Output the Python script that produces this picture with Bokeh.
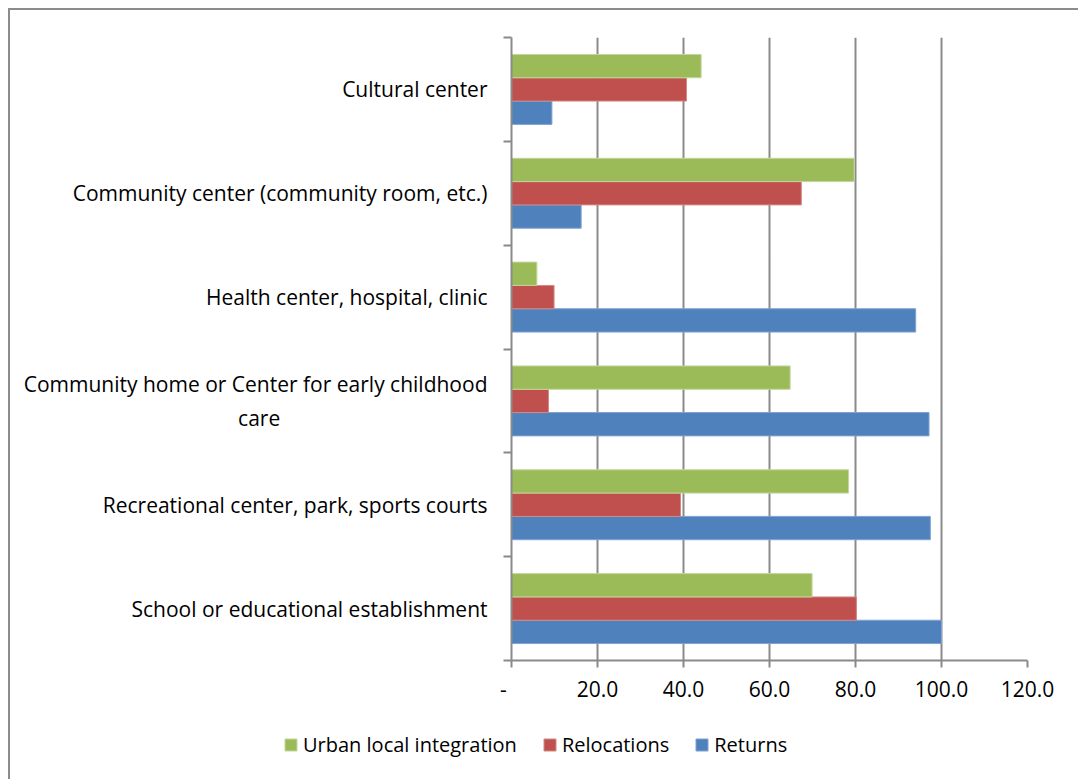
from bokeh.plotting import figure
from bokeh.layouts import column
from bokeh.models import (ColumnDataSource, FixedTicker, Legend, LegendItem,
                          InlineStyleSheet, NumeralTickFormatter)
from bokeh.transform import dodge
from bokeh.embed import file_html
from bokeh.resources import INLINE

NB = "\u00a0"
categories = [
    "School or educational establishment",
    "Recreational center, park, sports courts",
    "Community home or Center for early childhood\ncare" + NB * 38,
    "Health center, hospital, clinic",
    "Community center (community room, etc.)",
    "Cultural center",
]
returns = [100.0, 97.4, 97.1, 94.0, 16.2, 9.4]
relocations = [80.2, 39.3, 8.6, 9.9, 67.4, 40.7]
urban = [69.9, 78.4, 64.8, 5.9, 79.7, 44.1]
x_ticks = [0, 20, 40, 60, 80, 100, 120]
series_names = ["Urban local integration", "Relocations", "Returns"]
series_colors = ["#9BBB59", "#C0504D", "#4F81BD"]
series_edges = ["#C3D79C", "#D48886", "#7FA2D2"]

FONT = "Open Sans"
FS = "21px"
GRID = "#8a8a8a"

centers = [i + 0.5 for i in range(len(categories))]
src = ColumnDataSource(dict(y=centers, returns=returns, relocations=relocations, urban=urban))

p = figure(width=1078, height=710, x_range=(0, 120), y_range=(0, len(categories)),
           output_backend="svg", toolbar_location=None,
           min_border_left=511, min_border_right=51, min_border_top=37, min_border_bottom=50)
p.outline_line_color = None
p.background_fill_color = "white"
p.border_fill_color = "white"

bh = 0.2245
p.hbar(y=dodge("y", -bh, range=p.y_range), right="returns", left=0, height=bh, source=src,
       fill_color=series_colors[2], line_color=series_edges[2], line_width=1)
p.hbar(y=dodge("y", 0, range=p.y_range), right="relocations", left=0, height=bh, source=src,
       fill_color=series_colors[1], line_color=series_edges[1], line_width=1)
p.hbar(y=dodge("y", bh, range=p.y_range), right="urban", left=0, height=bh, source=src,
       fill_color=series_colors[0], line_color=series_edges[0], line_width=1)

# x axis
p.xaxis.ticker = FixedTicker(ticks=x_ticks)
p.xaxis.formatter = NumeralTickFormatter(format="0.0")
p.xaxis.major_label_overrides = {0: "-" + NB * 3}
p.xaxis.axis_line_color = GRID
p.xaxis.axis_line_width = 2
p.xaxis.major_tick_line_color = GRID
p.xaxis.major_tick_line_width = 2
p.xaxis.major_tick_out = 7
p.xaxis.major_tick_in = 0
p.xaxis.minor_tick_line_color = None
p.xaxis.major_label_standoff = 7
p.xaxis.major_label_text_font = FONT
p.xaxis.major_label_text_font_size = FS
p.xaxis.major_label_text_color = "black"

# y axis: labels at centers, ticks at category boundaries
p.yaxis.ticker = FixedTicker(ticks=centers, minor_ticks=list(range(len(categories) + 1)))
p.yaxis.major_label_overrides = {c: lab for c, lab in zip(centers, categories)}
p.yaxis.axis_line_color = GRID
p.yaxis.axis_line_width = 2
p.yaxis.major_tick_line_color = None
p.yaxis.major_tick_out = 0
p.yaxis.major_tick_in = 0
p.yaxis.minor_tick_line_color = GRID
p.yaxis.minor_tick_line_width = 2
p.yaxis.minor_tick_out = 8
p.yaxis.minor_tick_in = 0
p.yaxis.major_label_standoff = 16
p.yaxis.major_label_text_font = FONT
p.yaxis.major_label_text_font_size = FS
p.yaxis.major_label_text_color = "black"

p.xgrid.ticker = FixedTicker(ticks=x_ticks[1:])
p.xgrid.grid_line_color = GRID
p.xgrid.grid_line_width = 2
p.ygrid.grid_line_color = None

# legend strip below the chart (legend swatches come from off-range proxy glyphs)
lg = figure(width=1078, height=69, x_range=(0, 1), y_range=(0, 1),
            output_backend="svg", toolbar_location=None,
            x_axis_location=None, y_axis_location=None,
            min_border_left=0, min_border_right=0, min_border_top=0, min_border_bottom=0)
try:
    lg.frame_align = False
except Exception:
    pass
lg.outline_line_color = None
lg.xgrid.visible = False
lg.ygrid.visible = False
items = []
for name, col, edge in zip(series_names, series_colors, series_edges):
    r = lg.hbar(y=[-10], right=[0.5], left=0, height=0.1, fill_color=col, line_color=edge)
    items.append(LegendItem(label=name, renderers=[r]))
legend = Legend(items=items, orientation="horizontal", location=(283, 21),
                glyph_width=15, glyph_height=15, label_standoff=5, spacing=25,
                padding=0, margin=0, border_line_color=None, background_fill_alpha=0,
                label_text_font=FONT, label_text_font_size="20px", label_text_color="black",
                label_height=20)
lg.add_layout(legend, "center")

layout = column(p, lg, spacing=0)
layout.stylesheets = [InlineStyleSheet(css="""
:host { position: relative; }
:host::after { content: ""; position: absolute; left: 8px; top: 8px;
  width: calc(100% - 8px); height: calc(100% - 8px);
  border-left: 2px solid #8c8c8c; border-top: 2px solid #8c8c8c;
  box-sizing: border-box; pointer-events: none; }
""")]

open("out.html", "w").write(file_html(layout, INLINE))
